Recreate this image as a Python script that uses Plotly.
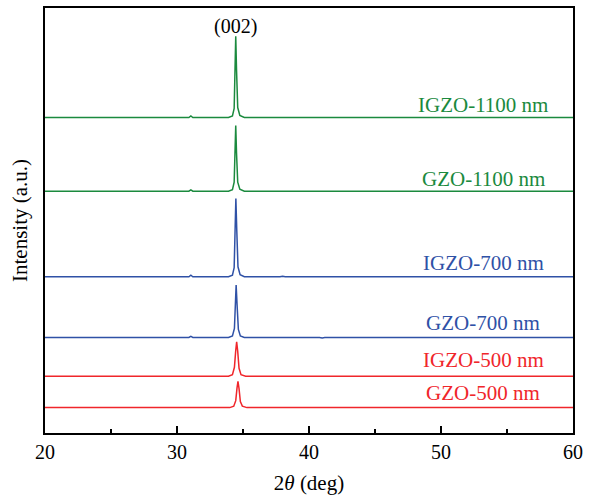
import plotly.graph_objects as go

# Series names, colours and vertical offsets (a.u.)
names = ["GZO-500 nm", "IGZO-500 nm", "GZO-700 nm", "IGZO-700 nm", "GZO-1100 nm", "IGZO-1100 nm"]
colors = ["#f0262b", "#f0262b", "#2f51a6", "#2f51a6", "#1b8a3e", "#1b8a3e"]
offsets = [25.5, 57, 96, 157, 243, 317]

# Read-off intensities (a.u., baseline removed) for each pattern
x_gzo500 = [20, 30, 34.0, 34.3, 34.45, 34.55, 34.62, 34.7, 34.8, 34.95, 35.3, 45, 60]
y_gzo500 = [0, 0, 0, 1.5, 7, 20, 26.5, 19, 6, 1.5, 0, 0, 0]

x_igzo500 = [20, 30.9, 31.05, 31.2, 33.9, 34.2, 34.35, 34.45, 34.52, 34.6, 34.7, 34.85, 35.2, 60]
y_igzo500 = [0, 0, 0.6, 0, 0, 1.5, 9, 26, 34.5, 25, 8, 1.5, 0, 0]

x_gzo700 = [20, 30.9, 31.05, 31.2, 33.9, 34.2, 34.35, 34.42, 34.48, 34.55, 34.65, 34.8, 35.1, 40.8, 41.0, 41.2, 43.6, 43.8, 44.0, 60]
y_gzo700 = [0, 0, 1.0, 0, 0, 1.5, 9, 35, 52.7, 33, 8, 1.5, 0, 0, -0.5, 0, 0, 0.5, 0, 0]

x_igzo700 = [20, 30.9, 31.05, 31.2, 33.9, 34.2, 34.33, 34.4, 34.46, 34.53, 34.62, 34.78, 35.1, 37.8, 38.0, 38.2, 60]
y_igzo700 = [0, 0, 1.5, 0, 0, 1.5, 9, 50, 78.7, 46, 10, 2, 0, 0, 0.4, 0, 0]

x_gzo1100 = [20, 30.9, 31.05, 31.2, 33.9, 34.2, 34.33, 34.39, 34.45, 34.51, 34.6, 34.76, 35.1, 60]
y_gzo1100 = [0, 0, 1.3, 0, 0, 1.5, 9, 42, 66, 38, 9, 2, 0, 0]

x_igzo1100 = [20, 30.9, 31.05, 31.2, 33.9, 34.2, 34.33, 34.39, 34.45, 34.51, 34.6, 34.76, 35.1, 37.8, 38.0, 38.2, 60]
y_igzo1100 = [0, 0, 1.5, 0, 0, 1.5, 9, 52, 81.7, 48, 10, 2, 0, 0, 0.3, 0, 0]

xs = [x_gzo500, x_igzo500, x_gzo700, x_igzo700, x_gzo1100, x_igzo1100]
ys = [y_gzo500, y_igzo500, y_gzo700, y_igzo700, y_gzo1100, y_igzo1100]

# Label positions (data units)
label_x = 53.2
label_y = [40, 73, 111, 171, 255, 330]

peak_label = "(002)"
peak_label_x = 34.45
peak_label_y = 408

x_ticks = [20, 30, 40, 50, 60]

serif = "Liberation Serif, Times New Roman, serif"

fig = go.Figure()
for name, c, off, x, y in zip(names, colors, offsets, xs, ys):
    fig.add_trace(go.Scatter(
        x=x, y=[v + off for v in y], mode="lines", name=name,
        line=dict(color=c, width=1.5), showlegend=False, hoverinfo="skip",
    ))

for name, c, ly in zip(names, colors, label_y):
    fig.add_annotation(x=label_x, y=ly, text=name, showarrow=False,
                       font=dict(family=serif, size=21, color=c),
                       xanchor="center", yanchor="middle")

fig.add_annotation(x=peak_label_x, y=peak_label_y, text=peak_label, showarrow=False,
                   font=dict(family=serif, size=20, color="black"),
                   xanchor="center", yanchor="middle")

fig.update_layout(
    width=593, height=498,
    margin=dict(l=45, r=20, t=6, b=65),
    paper_bgcolor="white", plot_bgcolor="white",
    font=dict(family=serif, size=20, color="black"),
    xaxis=dict(
        range=[20, 60], tickvals=x_ticks, ticks="inside", ticklen=7, tickwidth=1.5,
        tickcolor="black", showline=True, linecolor="black", linewidth=2, mirror=True,
        showgrid=False, zeroline=False,
        minor=dict(ticks="inside", dtick=5, tick0=20, ticklen=4, tickwidth=1.5, tickcolor="black", showgrid=False),
        title=dict(text="2<i>θ</i> (deg)", font=dict(family=serif, size=21), standoff=13),
        tickfont=dict(family=serif, size=20),
    ),
    yaxis=dict(
        range=[0, 427], showticklabels=False, ticks="", showline=True, linecolor="black",
        linewidth=2, mirror=True, showgrid=False, zeroline=False,
        title=dict(text="Intensity (a.u.)", font=dict(family=serif, size=21), standoff=10),
    ),
)

fig.write_html("out.html", config={"displayModeBar": False},
               post_script="document.body.style.margin='0';")
